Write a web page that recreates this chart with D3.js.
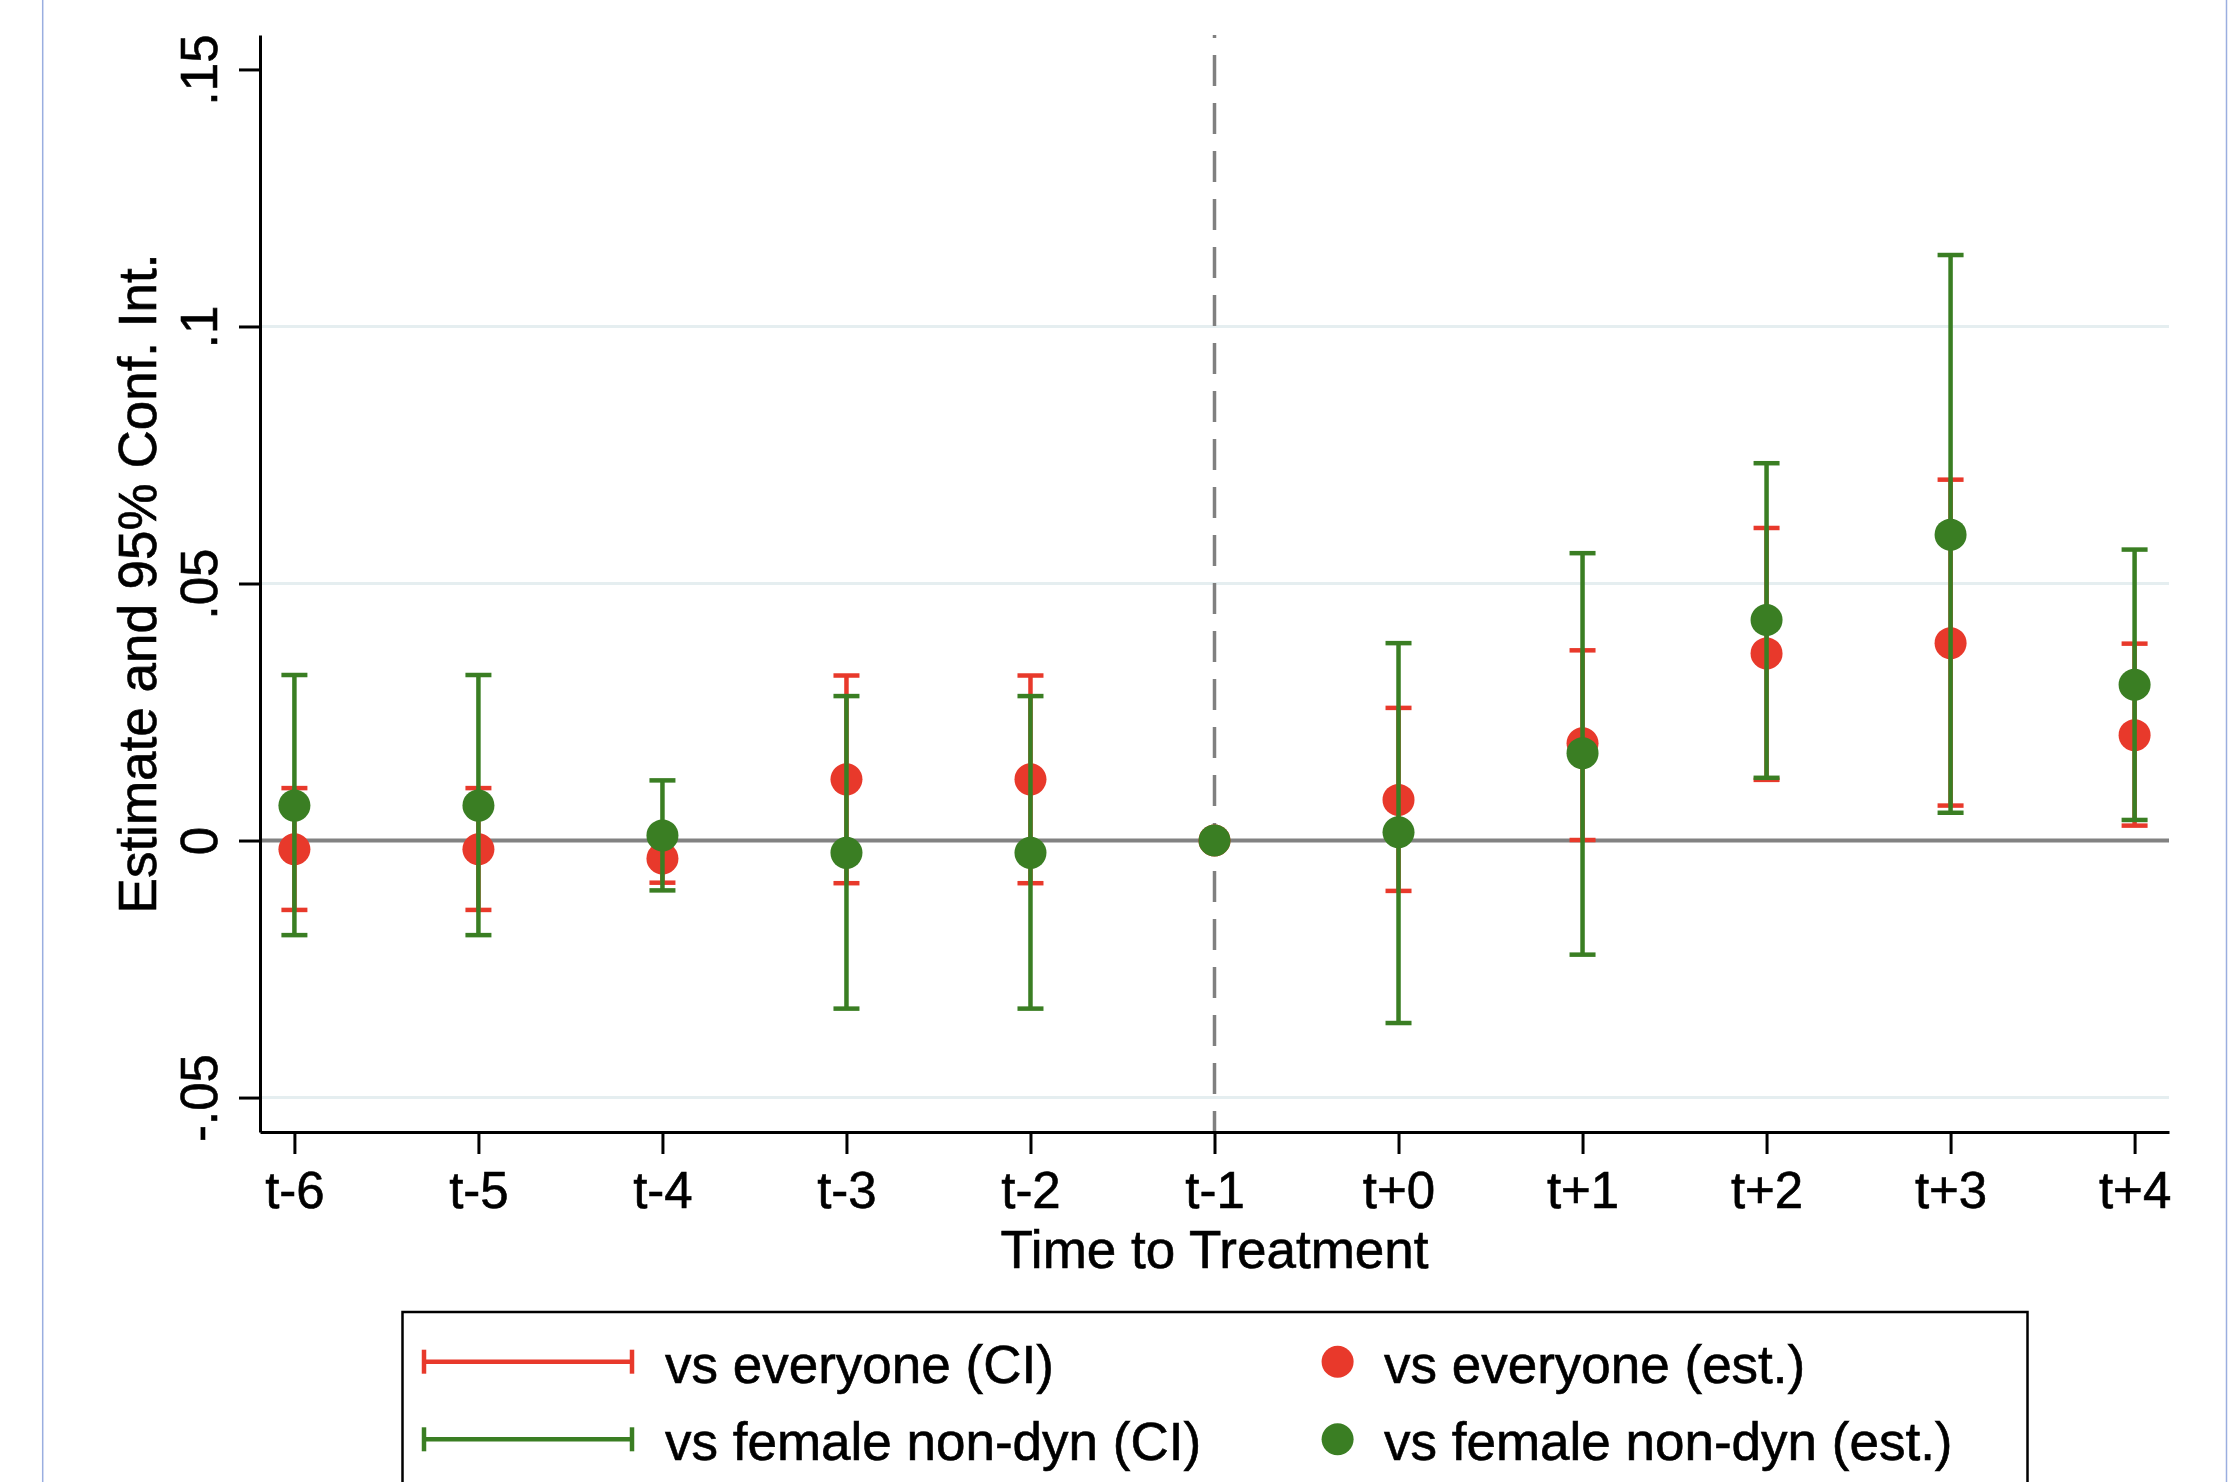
<!DOCTYPE html>
<html>
<head>
<meta charset="utf-8">
<script src="https://cdn.jsdelivr.net/npm/d3@7"></script>
<style>
  body { margin: 0; background: #fff; }
  text { font-family: "Liberation Sans", Arial, Helvetica, sans-serif; fill: #000; }
</style>
</head>
<body>
<div id="chart"></div>
<script>
// ----------------------------------------------------------
// Datos
// ----------------------------------------------------------
const periods = ["t-6", "t-5", "t-4", "t-3", "t-2", "t-1", "t+0", "t+1", "t+2", "t+3", "t+4"];

const estEveryone = [-0.0017, -0.0017, -0.0035, 0.0119, 0.0119, 0, 0.0079, 0.0189, 0.0364, 0.0384, 0.0205];
const loEveryone  = [-0.0135, -0.0135, -0.0082, -0.0083, -0.0083, 0, -0.0098, 0.0001, 0.0118, 0.0068, 0.0029];
const hiEveryone  = [0.0102, 0.0102, 0.0012, 0.0321, 0.0321, 0, 0.0258, 0.0370, 0.0608, 0.0702, 0.0383];

const estFemale = [0.0068, 0.0068, 0.0010, -0.0024, -0.0024, 0, 0.0016, 0.0170, 0.0429, 0.0595, 0.0303];
const loFemale  = [-0.0184, -0.0184, -0.0097, -0.0327, -0.0327, 0, -0.0355, -0.0222, 0.0122, 0.0054, 0.0040];
const hiFemale  = [0.0322, 0.0322, 0.0117, 0.0281, 0.0281, 0, 0.0384, 0.0559, 0.0734, 0.1139, 0.0566];

const yTicks = [-0.05, 0, 0.05, 0.1, 0.15];
const yGrid = [-0.05, 0.05, 0.1];
const treatPeriod = "t-1";

const legendLabels = ["vs everyone (CI)", "vs female non-dyn (CI)", "vs everyone (est.)", "vs female non-dyn (est.)"];

// ----------------------------------------------------------
// Layout
// ----------------------------------------------------------
const width = 2229;
const height = 1482;
const plot = { left: 260, right: 2169, top: 35, bottom: 1132 };
const red = "#e8392b";
const green = "#3a7e23";
const tickFont = 51;
const titleFont = 53;

const svg = d3.select("#chart").append("svg")
    .attr("width", width)
    .attr("height", height);

svg.append("rect").attr("width", width).attr("height", height).attr("fill", "#fff");

// marco azul del recorte
svg.append("line").attr("x1", 42.7).attr("x2", 42.7).attr("y1", 0).attr("y2", height)
    .attr("stroke", "#9aaee0").attr("stroke-width", 1.5);
svg.append("line").attr("x1", 2226.5).attr("x2", 2226.5).attr("y1", 0).attr("y2", height)
    .attr("stroke", "#9aaee0").attr("stroke-width", 1.5);

// escalas
const x = d3.scalePoint().domain(periods).range([plot.left, plot.right]).padding(0.187);
const y = d3.scaleLinear().domain([-0.0567, 0.1567]).range([plot.bottom, plot.top]);

// rejilla
const gridGroup = svg.append("g");
gridGroup.selectAll("line").data(yGrid).enter().append("line")
    .attr("x1", plot.left).attr("x2", plot.right)
    .attr("y1", d => y(d)).attr("y2", d => y(d))
    .attr("stroke", "#e5eef0").attr("stroke-width", 3);

// linea del cero y linea del tratamiento
svg.append("line")
    .attr("x1", plot.left).attr("x2", plot.right)
    .attr("y1", y(0)).attr("y2", y(0))
    .attr("stroke", "#828282").attr("stroke-width", 4);

svg.append("line")
    .attr("x1", x(treatPeriod)).attr("x2", x(treatPeriod))
    .attr("y1", plot.top).attr("y2", plot.bottom)
    .attr("stroke", "#808080").attr("stroke-width", 3.5)
    .attr("stroke-dasharray", "31,17")
    .attr("stroke-dashoffset", 28);

// ejes
const yAxis = d3.axisLeft(y).tickValues(yTicks).tickSize(21).tickSizeOuter(0)
    .tickFormat(d => d === 0 ? "0" : String(d).replace("0.", "."));
const xAxis = d3.axisBottom(x).tickSize(22).tickSizeOuter(0);

const yAxisGroup = svg.append("g").attr("transform", `translate(${plot.left},0)`).call(yAxis);
const xAxisGroup = svg.append("g").attr("transform", `translate(0,${plot.bottom})`).call(xAxis);

[yAxisGroup, xAxisGroup].forEach(g => {
    g.select(".domain").attr("stroke", "#000").attr("stroke-width", 3);
    g.selectAll(".tick line").attr("stroke", "#000").attr("stroke-width", 3);
    g.selectAll(".tick text")
        .attr("font-family", "Liberation Sans, Arial, Helvetica, sans-serif")
        .attr("font-size", tickFont).attr("fill", "#000")
        .attr("stroke", "#000").attr("stroke-width", 0.6);
});

yAxisGroup.selectAll(".tick text")
    .attr("x", 0).attr("y", 0).attr("dy", 0)
    .attr("text-anchor", "middle")
    .attr("transform", "translate(-43,0) rotate(-90)");

xAxisGroup.selectAll(".tick text").attr("y", 76).attr("dy", 0);

// titulos de los ejes
svg.append("text")
    .attr("x", (plot.left + plot.right) / 2).attr("y", 1268)
    .attr("text-anchor", "middle").attr("font-size", titleFont)
    .attr("stroke", "#000").attr("stroke-width", 0.6)
    .text("Time to Treatment");

svg.append("text")
    .attr("transform", `translate(156,${(plot.top + plot.bottom) / 2}) rotate(-90)`)
    .attr("text-anchor", "middle").attr("font-size", titleFont)
    .attr("stroke", "#000").attr("stroke-width", 0.6)
    .text("Estimate and 95% Conf. Int.");

// intervalos y estimaciones
const capHalf = 13;
function drawSeries(est, lo, hi, color) {
    const data = periods.map((p, i) => ({ p: p, est: est[i], lo: lo[i], hi: hi[i] }));
    const g = svg.append("g");
    g.selectAll(".ci").data(data).enter().append("line")
        .attr("x1", d => x(d.p)).attr("x2", d => x(d.p))
        .attr("y1", d => y(d.lo)).attr("y2", d => y(d.hi))
        .attr("stroke", color).attr("stroke-width", 4.5);
    ["lo", "hi"].forEach(k => {
        g.selectAll(".cap-" + k).data(data).enter().append("line")
            .attr("x1", d => x(d.p) - capHalf).attr("x2", d => x(d.p) + capHalf)
            .attr("y1", d => y(d[k])).attr("y2", d => y(d[k]))
            .attr("stroke", color).attr("stroke-width", 4.5);
    });
    g.selectAll("circle").data(data).enter().append("circle")
        .attr("cx", d => x(d.p)).attr("cy", d => y(d.est))
        .attr("r", 16).attr("fill", color);
}
drawSeries(estEveryone, loEveryone, hiEveryone, red);
drawSeries(estFemale, loFemale, hiFemale, green);

// leyenda
const legend = svg.append("g");
legend.append("rect")
    .attr("x", 402.5).attr("y", 1312).attr("width", 1625).attr("height", 260)
    .attr("fill", "#fff").attr("stroke", "#000").attr("stroke-width", 2.5);

const rowsY = [1361.7, 1439.3];
const baseY = [1383, 1460];
[red, green].forEach((c, i) => {
    legend.append("line").attr("x1", 424).attr("x2", 632)
        .attr("y1", rowsY[i]).attr("y2", rowsY[i])
        .attr("stroke", c).attr("stroke-width", 4.5);
    [424, 632].forEach(xx => {
        legend.append("line").attr("x1", xx).attr("x2", xx)
            .attr("y1", rowsY[i] - 12).attr("y2", rowsY[i] + 12)
            .attr("stroke", c).attr("stroke-width", 4.5);
    });
    legend.append("text").attr("x", 665).attr("y", baseY[i])
        .attr("font-size", titleFont).attr("stroke", "#000").attr("stroke-width", 0.6)
        .text(legendLabels[i]);
    legend.append("circle").attr("cx", 1337.6).attr("cy", rowsY[i])
        .attr("r", 16).attr("fill", c);
    legend.append("text").attr("x", 1384).attr("y", baseY[i])
        .attr("font-size", titleFont).attr("stroke", "#000").attr("stroke-width", 0.6)
        .text(legendLabels[i + 2]);
});
</script>
</body>
</html>
